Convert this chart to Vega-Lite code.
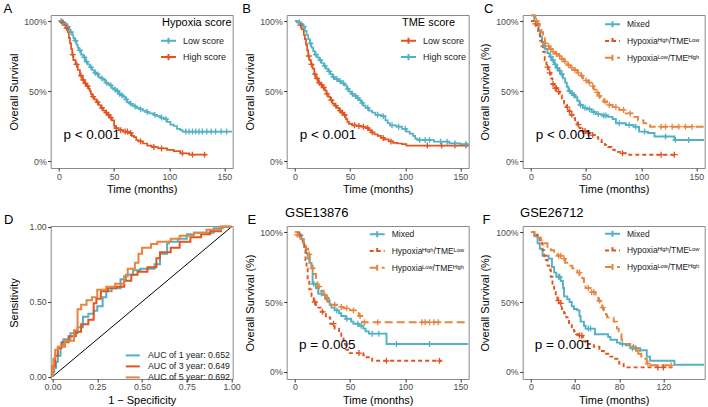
{
 "$schema": "https://vega.github.io/schema/vega-lite/v6.json",
 "padding": {"left": 2.7, "top": 2, "right": 0, "bottom": 0},
 "background": "white",
 "config": {
  "font": "Liberation Sans",
  "view": {"stroke": "#8a8a8a", "strokeWidth": 1},
  "axis": {"grid": false, "domain": false, "tickColor": "#333333", "tickSize": 3, "tickWidth": 1, "labelFontSize": 8.8, "labelColor": "#4d4d4d", "labelFont": "Liberation Sans", "titleFont": "Liberation Sans", "titleFontSize": 11, "titleFontWeight": "normal", "titleColor": "#000000", "labelPadding": 1.5, "labelFlush": false},
  "axisX": {"titlePadding": 2.5, "labelPadding": 1},
  "legend": {"titleFontSize": 11, "titleFontWeight": "normal", "titleColor": "#000000", "titleFont": "Liberation Sans", "labelFont": "Liberation Sans", "labelFontSize": 9, "labelColor": "#1a1a1a", "symbolStrokeWidth": 2, "padding": 0, "labelOffset": 8, "symbolType": "M-1.36,0H1.36M0,-0.55V0.55", "symbolSize": 121, "rowPadding": 1.3, "titlePadding": 6.5},
  "text": {"font": "Liberation Sans", "color": "#000000"}
 },
 "datasets": {
  "A": [
   {"g":"L","t":0,"s":1},{"g":"L","t":3,"s":0.99},{"g":"L","t":5,"s":0.98},{"g":"L","t":7,"s":0.96},{"g":"L","t":9,"s":0.94},{"g":"L","t":10,"s":0.92},{"g":"L","t":12,"s":0.9},{"g":"L","t":13,"s":0.88},{"g":"L","t":14,"s":0.86},{"g":"L","t":16,"s":0.83},{"g":"L","t":17,"s":0.81},{"g":"L","t":18,"s":0.79},{"g":"L","t":20,"s":0.76},{"g":"L","t":22,"s":0.74},{"g":"L","t":24,"s":0.71},{"g":"L","t":26,"s":0.69},{"g":"L","t":28,"s":0.67},{"g":"L","t":30,"s":0.65},{"g":"L","t":32,"s":0.63},{"g":"L","t":34,"s":0.62},{"g":"L","t":36,"s":0.6},{"g":"L","t":38,"s":0.59},{"g":"L","t":40,"s":0.58},{"g":"L","t":42,"s":0.56},{"g":"L","t":44,"s":0.55},{"g":"L","t":46,"s":0.54},{"g":"L","t":48,"s":0.52},{"g":"L","t":50,"s":0.51},{"g":"L","t":52,"s":0.5},{"g":"L","t":54,"s":0.48},{"g":"L","t":56,"s":0.47},{"g":"L","t":58,"s":0.46},{"g":"L","t":60,"s":0.44},{"g":"L","t":62,"s":0.42},{"g":"L","t":64,"s":0.41},{"g":"L","t":66,"s":0.4},{"g":"L","t":68,"s":0.39},{"g":"L","t":70,"s":0.38},{"g":"L","t":73,"s":0.37},{"g":"L","t":76,"s":0.36},{"g":"L","t":79,"s":0.35},{"g":"L","t":82,"s":0.34},{"g":"L","t":86,"s":0.33},{"g":"L","t":89,"s":0.32},{"g":"L","t":92,"s":0.31},{"g":"L","t":95,"s":0.3},{"g":"L","t":98,"s":0.28},{"g":"L","t":101,"s":0.26},{"g":"L","t":104,"s":0.25},{"g":"L","t":107,"s":0.23},{"g":"L","t":110,"s":0.22},{"g":"L","t":112,"s":0.21},{"g":"L","t":157,"s":0.21},
   {"g":"H","t":0,"s":1},{"g":"H","t":2,"s":0.99},{"g":"H","t":4,"s":0.97},{"g":"H","t":6,"s":0.95},{"g":"H","t":8,"s":0.92},{"g":"H","t":9,"s":0.88},{"g":"H","t":10,"s":0.84},{"g":"H","t":11,"s":0.8},{"g":"H","t":12,"s":0.76},{"g":"H","t":13,"s":0.72},{"g":"H","t":15,"s":0.69},{"g":"H","t":17,"s":0.65},{"g":"H","t":19,"s":0.61},{"g":"H","t":21,"s":0.58},{"g":"H","t":23,"s":0.555},{"g":"H","t":25,"s":0.535},{"g":"H","t":27,"s":0.515},{"g":"H","t":28,"s":0.5},{"g":"H","t":29,"s":0.48},{"g":"H","t":30,"s":0.46},{"g":"H","t":32,"s":0.44},{"g":"H","t":34,"s":0.42},{"g":"H","t":36,"s":0.4},{"g":"H","t":38,"s":0.38},{"g":"H","t":40,"s":0.36},{"g":"H","t":42,"s":0.345},{"g":"H","t":44,"s":0.33},{"g":"H","t":46,"s":0.31},{"g":"H","t":48,"s":0.29},{"g":"H","t":50,"s":0.25},{"g":"H","t":51,"s":0.235},{"g":"H","t":54,"s":0.22},{"g":"H","t":58,"s":0.21},{"g":"H","t":63,"s":0.2},{"g":"H","t":66,"s":0.18},{"g":"H","t":68,"s":0.17},{"g":"H","t":70,"s":0.15},{"g":"H","t":72,"s":0.14},{"g":"H","t":76,"s":0.125},{"g":"H","t":80,"s":0.11},{"g":"H","t":84,"s":0.1},{"g":"H","t":90,"s":0.09},{"g":"H","t":98,"s":0.08},{"g":"H","t":104,"s":0.07},{"g":"H","t":110,"s":0.055},{"g":"H","t":118,"s":0.045},{"g":"H","t":134,"s":0.045}
  ],
  "Ac": [
   {"g":"L","t":2,"s":1},{"g":"L","t":4,"s":0.99},{"g":"L","t":8,"s":0.96},{"g":"L","t":11,"s":0.92},{"g":"L","t":15,"s":0.86},{"g":"L","t":19,"s":0.79},{"g":"L","t":23,"s":0.74},{"g":"L","t":25,"s":0.71},{"g":"L","t":29,"s":0.67},{"g":"L","t":33,"s":0.63},{"g":"L","t":35,"s":0.62},{"g":"L","t":39,"s":0.59},{"g":"L","t":43,"s":0.56},{"g":"L","t":47,"s":0.54},{"g":"L","t":51,"s":0.51},{"g":"L","t":53,"s":0.5},{"g":"L","t":55,"s":0.48},{"g":"L","t":57,"s":0.47},{"g":"L","t":61,"s":0.44},{"g":"L","t":65,"s":0.41},{"g":"L","t":69,"s":0.39},{"g":"L","t":74,"s":0.37},{"g":"L","t":80,"s":0.35},{"g":"L","t":87,"s":0.33},{"g":"L","t":93,"s":0.31},{"g":"L","t":97,"s":0.3},{"g":"L","t":115,"s":0.21},{"g":"L","t":118,"s":0.21},{"g":"L","t":121,"s":0.21},{"g":"L","t":124,"s":0.21},{"g":"L","t":127,"s":0.21},{"g":"L","t":130,"s":0.21},{"g":"L","t":134,"s":0.21},{"g":"L","t":138,"s":0.21},{"g":"L","t":142,"s":0.21},{"g":"L","t":147,"s":0.21},{"g":"L","t":152,"s":0.21},
   {"g":"H","t":3,"s":0.99},{"g":"H","t":7,"s":0.95},{"g":"H","t":12.5,"s":0.76},{"g":"H","t":16,"s":0.69},{"g":"H","t":20,"s":0.61},{"g":"H","t":22,"s":0.58},{"g":"H","t":24,"s":0.555},{"g":"H","t":26,"s":0.535},{"g":"H","t":31,"s":0.46},{"g":"H","t":35,"s":0.42},{"g":"H","t":39,"s":0.38},{"g":"H","t":43,"s":0.345},{"g":"H","t":45,"s":0.33},{"g":"H","t":47,"s":0.31},{"g":"H","t":52,"s":0.235},{"g":"H","t":56,"s":0.22},{"g":"H","t":60,"s":0.21},{"g":"H","t":62,"s":0.21},{"g":"H","t":65,"s":0.2},{"g":"H","t":74,"s":0.14},{"g":"H","t":86,"s":0.1},{"g":"H","t":93,"s":0.09},{"g":"H","t":112,"s":0.055},{"g":"H","t":121,"s":0.045},{"g":"H","t":132,"s":0.045}
  ],
  "B": [
   {"g":"L","t":0,"s":1},{"g":"L","t":2,"s":0.99},{"g":"L","t":4,"s":0.97},{"g":"L","t":6,"s":0.94},{"g":"L","t":8,"s":0.9},{"g":"L","t":9,"s":0.87},{"g":"L","t":10,"s":0.83},{"g":"L","t":11,"s":0.79},{"g":"L","t":12,"s":0.75},{"g":"L","t":13,"s":0.72},{"g":"L","t":14.5,"s":0.69},{"g":"L","t":16,"s":0.66},{"g":"L","t":17.5,"s":0.62},{"g":"L","t":19,"s":0.59},{"g":"L","t":21,"s":0.56},{"g":"L","t":23,"s":0.545},{"g":"L","t":25,"s":0.525},{"g":"L","t":27,"s":0.505},{"g":"L","t":28.5,"s":0.48},{"g":"L","t":30,"s":0.46},{"g":"L","t":32,"s":0.435},{"g":"L","t":34,"s":0.41},{"g":"L","t":36,"s":0.395},{"g":"L","t":38,"s":0.38},{"g":"L","t":40,"s":0.36},{"g":"L","t":42,"s":0.345},{"g":"L","t":44,"s":0.33},{"g":"L","t":46,"s":0.3},{"g":"L","t":47.5,"s":0.28},{"g":"L","t":49,"s":0.265},{"g":"L","t":52,"s":0.255},{"g":"L","t":56,"s":0.25},{"g":"L","t":60,"s":0.245},{"g":"L","t":64,"s":0.235},{"g":"L","t":67,"s":0.22},{"g":"L","t":69,"s":0.205},{"g":"L","t":72,"s":0.19},{"g":"L","t":75,"s":0.18},{"g":"L","t":78,"s":0.165},{"g":"L","t":81,"s":0.155},{"g":"L","t":85,"s":0.14},{"g":"L","t":89,"s":0.13},{"g":"L","t":93,"s":0.125},{"g":"L","t":97,"s":0.12},{"g":"L","t":101,"s":0.11},{"g":"L","t":157,"s":0.11},
   {"g":"H","t":0,"s":1},{"g":"H","t":3,"s":0.99},{"g":"H","t":5,"s":0.98},{"g":"H","t":7,"s":0.96},{"g":"H","t":9,"s":0.93},{"g":"H","t":10.5,"s":0.9},{"g":"H","t":12,"s":0.87},{"g":"H","t":13.5,"s":0.84},{"g":"H","t":15,"s":0.81},{"g":"H","t":16.5,"s":0.785},{"g":"H","t":18,"s":0.76},{"g":"H","t":20,"s":0.74},{"g":"H","t":22,"s":0.72},{"g":"H","t":24,"s":0.7},{"g":"H","t":26,"s":0.68},{"g":"H","t":28,"s":0.66},{"g":"H","t":30,"s":0.64},{"g":"H","t":32,"s":0.62},{"g":"H","t":34,"s":0.6},{"g":"H","t":36,"s":0.585},{"g":"H","t":39,"s":0.57},{"g":"H","t":42,"s":0.555},{"g":"H","t":45,"s":0.54},{"g":"H","t":47,"s":0.515},{"g":"H","t":49,"s":0.495},{"g":"H","t":51,"s":0.48},{"g":"H","t":53,"s":0.465},{"g":"H","t":56,"s":0.45},{"g":"H","t":58,"s":0.435},{"g":"H","t":60,"s":0.415},{"g":"H","t":62,"s":0.395},{"g":"H","t":64,"s":0.38},{"g":"H","t":67,"s":0.36},{"g":"H","t":70,"s":0.345},{"g":"H","t":73,"s":0.33},{"g":"H","t":78,"s":0.32},{"g":"H","t":82,"s":0.29},{"g":"H","t":84,"s":0.27},{"g":"H","t":86,"s":0.255},{"g":"H","t":92,"s":0.245},{"g":"H","t":97,"s":0.23},{"g":"H","t":101,"s":0.21},{"g":"H","t":104,"s":0.195},{"g":"H","t":107,"s":0.18},{"g":"H","t":109,"s":0.16},{"g":"H","t":111,"s":0.15},{"g":"H","t":126,"s":0.138},{"g":"H","t":140,"s":0.126},{"g":"H","t":150,"s":0.12},{"g":"H","t":157,"s":0.12}
  ],
  "Bc": [
   {"g":"L","t":5,"s":0.97},{"g":"L","t":12.5,"s":0.75},{"g":"L","t":15,"s":0.69},{"g":"L","t":18,"s":0.62},{"g":"L","t":20,"s":0.59},{"g":"L","t":22,"s":0.56},{"g":"L","t":24,"s":0.545},{"g":"L","t":26,"s":0.525},{"g":"L","t":29,"s":0.48},{"g":"L","t":33,"s":0.435},{"g":"L","t":37,"s":0.395},{"g":"L","t":41,"s":0.36},{"g":"L","t":43,"s":0.345},{"g":"L","t":45,"s":0.33},{"g":"L","t":54,"s":0.255},{"g":"L","t":58,"s":0.25},{"g":"L","t":62,"s":0.245},{"g":"L","t":66,"s":0.235},{"g":"L","t":70,"s":0.205},{"g":"L","t":80,"s":0.165},{"g":"L","t":87,"s":0.14},{"g":"L","t":120,"s":0.11},{"g":"L","t":133,"s":0.11},{"g":"L","t":145,"s":0.11},{"g":"L","t":155,"s":0.11},
   {"g":"H","t":4,"s":0.99},{"g":"H","t":8,"s":0.96},{"g":"H","t":14,"s":0.84},{"g":"H","t":19,"s":0.76},{"g":"H","t":23,"s":0.72},{"g":"H","t":27,"s":0.68},{"g":"H","t":31,"s":0.64},{"g":"H","t":35,"s":0.6},{"g":"H","t":38,"s":0.585},{"g":"H","t":41,"s":0.57},{"g":"H","t":44,"s":0.555},{"g":"H","t":48,"s":0.515},{"g":"H","t":52,"s":0.48},{"g":"H","t":55,"s":0.465},{"g":"H","t":57,"s":0.45},{"g":"H","t":61,"s":0.415},{"g":"H","t":66,"s":0.38},{"g":"H","t":75,"s":0.33},{"g":"H","t":80,"s":0.32},{"g":"H","t":88,"s":0.255},{"g":"H","t":94,"s":0.245},{"g":"H","t":100,"s":0.23},{"g":"H","t":113,"s":0.15},{"g":"H","t":118,"s":0.15},{"g":"H","t":122,"s":0.15},{"g":"H","t":132,"s":0.138},{"g":"H","t":138,"s":0.138},{"g":"H","t":145,"s":0.126},{"g":"H","t":155,"s":0.12}
  ],
  "C": [
   {"g":"M","t":0,"s":1.04},{"g":"M","t":3,"s":1},{"g":"M","t":5,"s":0.97},{"g":"M","t":7,"s":0.93},{"g":"M","t":8.5,"s":0.89},{"g":"M","t":10,"s":0.85},{"g":"M","t":11,"s":0.82},{"g":"M","t":13,"s":0.8},{"g":"M","t":15,"s":0.77},{"g":"M","t":17,"s":0.745},{"g":"M","t":19,"s":0.72},{"g":"M","t":21,"s":0.69},{"g":"M","t":23,"s":0.665},{"g":"M","t":25,"s":0.645},{"g":"M","t":27,"s":0.62},{"g":"M","t":29,"s":0.59},{"g":"M","t":31,"s":0.56},{"g":"M","t":32.5,"s":0.53},{"g":"M","t":34,"s":0.5},{"g":"M","t":36,"s":0.485},{"g":"M","t":38,"s":0.47},{"g":"M","t":40,"s":0.455},{"g":"M","t":42,"s":0.43},{"g":"M","t":44,"s":0.4},{"g":"M","t":47,"s":0.38},{"g":"M","t":51,"s":0.37},{"g":"M","t":55,"s":0.35},{"g":"M","t":59,"s":0.335},{"g":"M","t":64,"s":0.325},{"g":"M","t":70,"s":0.315},{"g":"M","t":74,"s":0.3},{"g":"M","t":77,"s":0.27},{"g":"M","t":86,"s":0.257},{"g":"M","t":93,"s":0.245},{"g":"M","t":98,"s":0.21},{"g":"M","t":106,"s":0.2},{"g":"M","t":112,"s":0.175},{"g":"M","t":130,"s":0.15},{"g":"M","t":157,"s":0.15},
   {"g":"HL","t":0,"s":1},{"g":"HL","t":3,"s":0.98},{"g":"HL","t":5,"s":0.95},{"g":"HL","t":6.5,"s":0.91},{"g":"HL","t":8,"s":0.86},{"g":"HL","t":9.5,"s":0.82},{"g":"HL","t":11,"s":0.78},{"g":"HL","t":12.5,"s":0.72},{"g":"HL","t":14,"s":0.67},{"g":"HL","t":16,"s":0.63},{"g":"HL","t":18,"s":0.59},{"g":"HL","t":19.5,"s":0.55},{"g":"HL","t":21,"s":0.52},{"g":"HL","t":24,"s":0.495},{"g":"HL","t":26,"s":0.47},{"g":"HL","t":28,"s":0.44},{"g":"HL","t":30,"s":0.41},{"g":"HL","t":32,"s":0.385},{"g":"HL","t":34,"s":0.355},{"g":"HL","t":36,"s":0.33},{"g":"HL","t":38,"s":0.305},{"g":"HL","t":40,"s":0.285},{"g":"HL","t":42,"s":0.26},{"g":"HL","t":44,"s":0.235},{"g":"HL","t":46,"s":0.215},{"g":"HL","t":50,"s":0.2},{"g":"HL","t":54,"s":0.185},{"g":"HL","t":58,"s":0.17},{"g":"HL","t":61,"s":0.15},{"g":"HL","t":64,"s":0.135},{"g":"HL","t":67,"s":0.115},{"g":"HL","t":70,"s":0.1},{"g":"HL","t":73,"s":0.08},{"g":"HL","t":76,"s":0.065},{"g":"HL","t":82,"s":0.055},{"g":"HL","t":88,"s":0.045},{"g":"HL","t":133,"s":0.045},
   {"g":"LH","t":0,"s":1.04},{"g":"LH","t":4,"s":1},{"g":"LH","t":6,"s":0.98},{"g":"LH","t":8,"s":0.95},{"g":"LH","t":9.5,"s":0.92},{"g":"LH","t":11,"s":0.88},{"g":"LH","t":12.5,"s":0.84},{"g":"LH","t":15,"s":0.82},{"g":"LH","t":17,"s":0.8},{"g":"LH","t":19,"s":0.78},{"g":"LH","t":22,"s":0.765},{"g":"LH","t":25,"s":0.75},{"g":"LH","t":27,"s":0.73},{"g":"LH","t":30,"s":0.71},{"g":"LH","t":33,"s":0.685},{"g":"LH","t":36,"s":0.665},{"g":"LH","t":39,"s":0.65},{"g":"LH","t":42,"s":0.63},{"g":"LH","t":45,"s":0.61},{"g":"LH","t":47,"s":0.59},{"g":"LH","t":49,"s":0.575},{"g":"LH","t":52,"s":0.56},{"g":"LH","t":55,"s":0.535},{"g":"LH","t":57,"s":0.51},{"g":"LH","t":59,"s":0.49},{"g":"LH","t":61,"s":0.465},{"g":"LH","t":63,"s":0.445},{"g":"LH","t":66,"s":0.425},{"g":"LH","t":69,"s":0.4},{"g":"LH","t":74,"s":0.385},{"g":"LH","t":80,"s":0.365},{"g":"LH","t":86,"s":0.34},{"g":"LH","t":92,"s":0.315},{"g":"LH","t":97,"s":0.29},{"g":"LH","t":102,"s":0.27},{"g":"LH","t":108,"s":0.245},{"g":"LH","t":157,"s":0.245}
  ],
  "Cc": [
   {"g":"M","t":12,"s":0.82},{"g":"M","t":18,"s":0.745},{"g":"M","t":20,"s":0.72},{"g":"M","t":22,"s":0.69},{"g":"M","t":24,"s":0.665},{"g":"M","t":26,"s":0.645},{"g":"M","t":28,"s":0.62},{"g":"M","t":35,"s":0.5},{"g":"M","t":37,"s":0.485},{"g":"M","t":39,"s":0.47},{"g":"M","t":45,"s":0.4},{"g":"M","t":49,"s":0.38},{"g":"M","t":53,"s":0.37},{"g":"M","t":57,"s":0.35},{"g":"M","t":61,"s":0.335},{"g":"M","t":66,"s":0.325},{"g":"M","t":68,"s":0.325},{"g":"M","t":80,"s":0.27},{"g":"M","t":89,"s":0.257},{"g":"M","t":95,"s":0.245},{"g":"M","t":103,"s":0.21},{"g":"M","t":122,"s":0.175},{"g":"M","t":131,"s":0.15},{"g":"M","t":143,"s":0.15},
   {"g":"HL","t":4,"s":0.98},{"g":"HL","t":15,"s":0.67},{"g":"HL","t":17,"s":0.63},{"g":"HL","t":20,"s":0.55},{"g":"HL","t":22,"s":0.52},{"g":"HL","t":23,"s":0.52},{"g":"HL","t":25,"s":0.495},{"g":"HL","t":33,"s":0.385},{"g":"HL","t":35,"s":0.355},{"g":"HL","t":37,"s":0.33},{"g":"HL","t":43,"s":0.26},{"g":"HL","t":47,"s":0.215},{"g":"HL","t":49,"s":0.215},{"g":"HL","t":52,"s":0.2},{"g":"HL","t":56,"s":0.185},{"g":"HL","t":83,"s":0.055},{"g":"HL","t":118,"s":0.045},{"g":"HL","t":130,"s":0.045},
   {"g":"LH","t":5,"s":1},{"g":"LH","t":13,"s":0.84},{"g":"LH","t":16,"s":0.82},{"g":"LH","t":18,"s":0.8},{"g":"LH","t":20,"s":0.78},{"g":"LH","t":23,"s":0.765},{"g":"LH","t":26,"s":0.75},{"g":"LH","t":28,"s":0.73},{"g":"LH","t":31,"s":0.71},{"g":"LH","t":34,"s":0.685},{"g":"LH","t":37,"s":0.665},{"g":"LH","t":40,"s":0.65},{"g":"LH","t":43,"s":0.63},{"g":"LH","t":46,"s":0.61},{"g":"LH","t":50,"s":0.575},{"g":"LH","t":53,"s":0.56},{"g":"LH","t":56,"s":0.535},{"g":"LH","t":60,"s":0.49},{"g":"LH","t":62,"s":0.465},{"g":"LH","t":67,"s":0.425},{"g":"LH","t":71,"s":0.4},{"g":"LH","t":77,"s":0.385},{"g":"LH","t":84,"s":0.365},{"g":"LH","t":90,"s":0.34},{"g":"LH","t":118,"s":0.245},{"g":"LH","t":122,"s":0.245},{"g":"LH","t":128,"s":0.245},{"g":"LH","t":134,"s":0.245},{"g":"LH","t":140,"s":0.245},{"g":"LH","t":146,"s":0.245}
  ],
  "D": [
   {"g":"1","fp":0,"tp":0},{"g":"1","fp":0.01,"tp":0.03},{"g":"1","fp":0.02,"tp":0.06},{"g":"1","fp":0.03,"tp":0.1},{"g":"1","fp":0.045,"tp":0.14},{"g":"1","fp":0.06,"tp":0.2},{"g":"1","fp":0.1,"tp":0.25},{"g":"1","fp":0.14,"tp":0.29},{"g":"1","fp":0.17,"tp":0.33},{"g":"1","fp":0.2,"tp":0.4},{"g":"1","fp":0.23,"tp":0.42},{"g":"1","fp":0.25,"tp":0.44},{"g":"1","fp":0.28,"tp":0.47},{"g":"1","fp":0.3,"tp":0.53},{"g":"1","fp":0.33,"tp":0.57},{"g":"1","fp":0.38,"tp":0.59},{"g":"1","fp":0.41,"tp":0.65},{"g":"1","fp":0.45,"tp":0.68},{"g":"1","fp":0.49,"tp":0.71},{"g":"1","fp":0.57,"tp":0.72},{"g":"1","fp":0.6,"tp":0.75},{"g":"1","fp":0.64,"tp":0.82},{"g":"1","fp":0.65,"tp":0.89},{"g":"1","fp":0.7,"tp":0.9},{"g":"1","fp":0.75,"tp":0.92},{"g":"1","fp":0.79,"tp":0.95},{"g":"1","fp":0.9,"tp":0.96},{"g":"1","fp":0.95,"tp":0.99},{"g":"1","fp":1,"tp":1},
   {"g":"3","fp":0,"tp":0},{"g":"3","fp":0.015,"tp":0.07},{"g":"3","fp":0.03,"tp":0.14},{"g":"3","fp":0.05,"tp":0.19},{"g":"3","fp":0.09,"tp":0.23},{"g":"3","fp":0.13,"tp":0.27},{"g":"3","fp":0.16,"tp":0.3},{"g":"3","fp":0.2,"tp":0.35},{"g":"3","fp":0.23,"tp":0.38},{"g":"3","fp":0.245,"tp":0.49},{"g":"3","fp":0.27,"tp":0.52},{"g":"3","fp":0.31,"tp":0.57},{"g":"3","fp":0.355,"tp":0.59},{"g":"3","fp":0.4,"tp":0.6},{"g":"3","fp":0.44,"tp":0.64},{"g":"3","fp":0.475,"tp":0.68},{"g":"3","fp":0.53,"tp":0.7},{"g":"3","fp":0.58,"tp":0.73},{"g":"3","fp":0.6,"tp":0.79},{"g":"3","fp":0.66,"tp":0.83},{"g":"3","fp":0.71,"tp":0.86},{"g":"3","fp":0.77,"tp":0.9},{"g":"3","fp":0.83,"tp":0.93},{"g":"3","fp":0.88,"tp":0.95},{"g":"3","fp":0.94,"tp":0.97},{"g":"3","fp":1,"tp":1},
   {"g":"5","fp":0,"tp":0},{"g":"5","fp":0.005,"tp":0.05},{"g":"5","fp":0.015,"tp":0.12},{"g":"5","fp":0.03,"tp":0.18},{"g":"5","fp":0.07,"tp":0.2},{"g":"5","fp":0.12,"tp":0.24},{"g":"5","fp":0.14,"tp":0.31},{"g":"5","fp":0.16,"tp":0.45},{"g":"5","fp":0.19,"tp":0.48},{"g":"5","fp":0.22,"tp":0.51},{"g":"5","fp":0.25,"tp":0.53},{"g":"5","fp":0.3,"tp":0.58},{"g":"5","fp":0.35,"tp":0.6},{"g":"5","fp":0.4,"tp":0.62},{"g":"5","fp":0.42,"tp":0.67},{"g":"5","fp":0.46,"tp":0.72},{"g":"5","fp":0.48,"tp":0.76},{"g":"5","fp":0.5,"tp":0.82},{"g":"5","fp":0.55,"tp":0.86},{"g":"5","fp":0.585,"tp":0.885},{"g":"5","fp":0.66,"tp":0.9},{"g":"5","fp":0.71,"tp":0.92},{"g":"5","fp":0.79,"tp":0.94},{"g":"5","fp":0.86,"tp":0.96},{"g":"5","fp":0.94,"tp":0.98},{"g":"5","fp":1,"tp":1}
  ],
  "diag": [{"fp":0,"tp":0},{"fp":1,"tp":1}],
  "E": [
   {"g":"M","t":0,"s":1},{"g":"M","t":3,"s":0.976},{"g":"M","t":6,"s":0.95},{"g":"M","t":7.5,"s":0.92},{"g":"M","t":8.5,"s":0.89},{"g":"M","t":10,"s":0.85},{"g":"M","t":11.5,"s":0.81},{"g":"M","t":13,"s":0.78},{"g":"M","t":15,"s":0.76},{"g":"M","t":16,"s":0.63},{"g":"M","t":19,"s":0.6},{"g":"M","t":21,"s":0.56},{"g":"M","t":26,"s":0.55},{"g":"M","t":28,"s":0.53},{"g":"M","t":30,"s":0.51},{"g":"M","t":31.5,"s":0.48},{"g":"M","t":33,"s":0.46},{"g":"M","t":36,"s":0.44},{"g":"M","t":40,"s":0.42},{"g":"M","t":42,"s":0.4},{"g":"M","t":46,"s":0.38},{"g":"M","t":51,"s":0.36},{"g":"M","t":53,"s":0.345},{"g":"M","t":58,"s":0.33},{"g":"M","t":62,"s":0.31},{"g":"M","t":64,"s":0.29},{"g":"M","t":67,"s":0.274},{"g":"M","t":83,"s":0.2},{"g":"M","t":157,"s":0.2},
   {"g":"HL","t":0,"s":1},{"g":"HL","t":3,"s":0.98},{"g":"HL","t":5,"s":0.96},{"g":"HL","t":7,"s":0.92},{"g":"HL","t":8.5,"s":0.87},{"g":"HL","t":9.5,"s":0.8},{"g":"HL","t":10.5,"s":0.74},{"g":"HL","t":11.5,"s":0.66},{"g":"HL","t":13,"s":0.59},{"g":"HL","t":15,"s":0.54},{"g":"HL","t":17,"s":0.5},{"g":"HL","t":19,"s":0.46},{"g":"HL","t":24,"s":0.43},{"g":"HL","t":28,"s":0.39},{"g":"HL","t":32,"s":0.345},{"g":"HL","t":36,"s":0.31},{"g":"HL","t":40,"s":0.275},{"g":"HL","t":42,"s":0.24},{"g":"HL","t":44,"s":0.2},{"g":"HL","t":46,"s":0.16},{"g":"HL","t":48,"s":0.135},{"g":"HL","t":62,"s":0.12},{"g":"HL","t":65,"s":0.105},{"g":"HL","t":70,"s":0.08},{"g":"HL","t":133,"s":0.08},
   {"g":"LH","t":0,"s":1},{"g":"LH","t":3,"s":0.98},{"g":"LH","t":5,"s":0.95},{"g":"LH","t":8,"s":0.92},{"g":"LH","t":10,"s":0.88},{"g":"LH","t":12,"s":0.84},{"g":"LH","t":13.5,"s":0.79},{"g":"LH","t":15,"s":0.74},{"g":"LH","t":17,"s":0.7},{"g":"LH","t":19,"s":0.65},{"g":"LH","t":20.5,"s":0.61},{"g":"LH","t":23,"s":0.58},{"g":"LH","t":26,"s":0.55},{"g":"LH","t":28,"s":0.52},{"g":"LH","t":30,"s":0.5},{"g":"LH","t":33,"s":0.48},{"g":"LH","t":38,"s":0.465},{"g":"LH","t":44,"s":0.455},{"g":"LH","t":50,"s":0.44},{"g":"LH","t":55,"s":0.42},{"g":"LH","t":58,"s":0.4},{"g":"LH","t":61,"s":0.355},{"g":"LH","t":157,"s":0.355}
  ],
  "Ec": [
   {"g":"M","t":5,"s":0.976},{"g":"M","t":17,"s":0.63},{"g":"M","t":24,"s":0.56},{"g":"M","t":29,"s":0.53},{"g":"M","t":38,"s":0.44},{"g":"M","t":47,"s":0.38},{"g":"M","t":57,"s":0.345},{"g":"M","t":60,"s":0.33},{"g":"M","t":70,"s":0.274},{"g":"M","t":76,"s":0.274},{"g":"M","t":92,"s":0.2},{"g":"M","t":122,"s":0.2},
   {"g":"HL","t":4,"s":0.98},{"g":"HL","t":18,"s":0.5},{"g":"HL","t":25,"s":0.43},{"g":"HL","t":35,"s":0.345},{"g":"HL","t":58,"s":0.135},{"g":"HL","t":83,"s":0.08},{"g":"HL","t":131,"s":0.08},
   {"g":"LH","t":2,"s":0.98},{"g":"LH","t":13,"s":0.84},{"g":"LH","t":16,"s":0.74},{"g":"LH","t":22,"s":0.61},{"g":"LH","t":27,"s":0.55},{"g":"LH","t":29,"s":0.52},{"g":"LH","t":36,"s":0.48},{"g":"LH","t":42,"s":0.465},{"g":"LH","t":47,"s":0.455},{"g":"LH","t":53,"s":0.44},{"g":"LH","t":59,"s":0.4},{"g":"LH","t":63,"s":0.355},{"g":"LH","t":75,"s":0.355},{"g":"LH","t":115,"s":0.355},{"g":"LH","t":118,"s":0.355},{"g":"LH","t":122,"s":0.355},{"g":"LH","t":126,"s":0.355},{"g":"LH","t":130,"s":0.355}
  ],
  "F": [
   {"g":"M","t":0,"s":1},{"g":"M","t":3,"s":0.97},{"g":"M","t":6,"s":0.92},{"g":"M","t":8,"s":0.88},{"g":"M","t":10.5,"s":0.83},{"g":"M","t":16,"s":0.81},{"g":"M","t":19,"s":0.75},{"g":"M","t":21,"s":0.71},{"g":"M","t":23,"s":0.68},{"g":"M","t":27,"s":0.65},{"g":"M","t":29,"s":0.6},{"g":"M","t":30,"s":0.54},{"g":"M","t":33,"s":0.52},{"g":"M","t":35,"s":0.5},{"g":"M","t":37,"s":0.47},{"g":"M","t":39,"s":0.45},{"g":"M","t":42,"s":0.44},{"g":"M","t":44,"s":0.4},{"g":"M","t":45,"s":0.36},{"g":"M","t":48,"s":0.33},{"g":"M","t":49.5,"s":0.31},{"g":"M","t":58,"s":0.27},{"g":"M","t":70,"s":0.25},{"g":"M","t":72,"s":0.23},{"g":"M","t":78,"s":0.21},{"g":"M","t":81,"s":0.2},{"g":"M","t":86,"s":0.19},{"g":"M","t":90,"s":0.17},{"g":"M","t":99,"s":0.155},{"g":"M","t":105,"s":0.11},{"g":"M","t":108,"s":0.08},{"g":"M","t":130,"s":0.052},{"g":"M","t":157,"s":0.052},
   {"g":"HL","t":0,"s":1},{"g":"HL","t":3,"s":0.98},{"g":"HL","t":6,"s":0.96},{"g":"HL","t":8,"s":0.92},{"g":"HL","t":10.5,"s":0.87},{"g":"HL","t":12,"s":0.83},{"g":"HL","t":13.5,"s":0.8},{"g":"HL","t":15,"s":0.76},{"g":"HL","t":16.5,"s":0.73},{"g":"HL","t":18,"s":0.68},{"g":"HL","t":19.5,"s":0.63},{"g":"HL","t":21,"s":0.58},{"g":"HL","t":22.5,"s":0.54},{"g":"HL","t":24,"s":0.51},{"g":"HL","t":25.5,"s":0.49},{"g":"HL","t":28,"s":0.45},{"g":"HL","t":30,"s":0.42},{"g":"HL","t":32,"s":0.39},{"g":"HL","t":34.5,"s":0.35},{"g":"HL","t":37,"s":0.32},{"g":"HL","t":39,"s":0.29},{"g":"HL","t":41,"s":0.27},{"g":"HL","t":43.5,"s":0.26},{"g":"HL","t":47,"s":0.22},{"g":"HL","t":49.5,"s":0.2},{"g":"HL","t":57,"s":0.18},{"g":"HL","t":62,"s":0.15},{"g":"HL","t":66,"s":0.13},{"g":"HL","t":70,"s":0.11},{"g":"HL","t":75,"s":0.095},{"g":"HL","t":80,"s":0.06},{"g":"HL","t":84,"s":0.033},{"g":"HL","t":129,"s":0.033},
   {"g":"LH","t":0,"s":1},{"g":"LH","t":3,"s":0.98},{"g":"LH","t":6,"s":0.96},{"g":"LH","t":9,"s":0.94},{"g":"LH","t":12,"s":0.92},{"g":"LH","t":15,"s":0.89},{"g":"LH","t":18,"s":0.87},{"g":"LH","t":21,"s":0.85},{"g":"LH","t":24,"s":0.83},{"g":"LH","t":28.5,"s":0.81},{"g":"LH","t":31,"s":0.78},{"g":"LH","t":33,"s":0.76},{"g":"LH","t":37.5,"s":0.74},{"g":"LH","t":42,"s":0.71},{"g":"LH","t":44,"s":0.69},{"g":"LH","t":46.5,"s":0.67},{"g":"LH","t":48,"s":0.63},{"g":"LH","t":49.5,"s":0.6},{"g":"LH","t":54,"s":0.57},{"g":"LH","t":58.5,"s":0.54},{"g":"LH","t":61,"s":0.51},{"g":"LH","t":63,"s":0.49},{"g":"LH","t":64.5,"s":0.46},{"g":"LH","t":66,"s":0.44},{"g":"LH","t":68,"s":0.41},{"g":"LH","t":69,"s":0.39},{"g":"LH","t":75,"s":0.36},{"g":"LH","t":78,"s":0.31},{"g":"LH","t":79.5,"s":0.27},{"g":"LH","t":82,"s":0.23},{"g":"LH","t":84,"s":0.2},{"g":"LH","t":90,"s":0.18},{"g":"LH","t":93,"s":0.17},{"g":"LH","t":96,"s":0.15},{"g":"LH","t":97.5,"s":0.13},{"g":"LH","t":100,"s":0.11},{"g":"LH","t":102,"s":0.095},{"g":"LH","t":105,"s":0.06},{"g":"LH","t":108,"s":0.048},{"g":"LH","t":129,"s":0.048}
  ],
  "Fc": [
   {"g":"M","t":25,"s":0.68},{"g":"M","t":26,"s":0.68},{"g":"M","t":52,"s":0.31},{"g":"M","t":54,"s":0.31},{"g":"M","t":83,"s":0.2},{"g":"M","t":92,"s":0.17},{"g":"M","t":95,"s":0.17},
   {"g":"HL","t":25,"s":0.51},{"g":"HL","t":27,"s":0.49},{"g":"HL","t":44,"s":0.26},{"g":"HL","t":46,"s":0.26},{"g":"HL","t":115,"s":0.033},{"g":"HL","t":120,"s":0.033},
   {"g":"LH","t":25,"s":0.83},{"g":"LH","t":27,"s":0.83},{"g":"LH","t":30,"s":0.81},{"g":"LH","t":44,"s":0.71},{"g":"LH","t":52,"s":0.6},{"g":"LH","t":55,"s":0.57},{"g":"LH","t":57,"s":0.57},{"g":"LH","t":62,"s":0.51},{"g":"LH","t":65,"s":0.46},{"g":"LH","t":93,"s":0.18},{"g":"LH","t":97,"s":0.15},{"g":"LH","t":106,"s":0.06},{"g":"LH","t":127,"s":0.048}
  ]
 },
 "columns": 3,
 "spacing": {"row": 58, "column": 54},
 "bounds": "flush",
 "resolve": {"scale": {"x": "independent", "y": "independent", "color": "independent", "strokeDash": "independent"}, "legend": {"color": "independent", "strokeDash": "independent"}},
 "concat": [
  {
   "width": 182, "height": 153,
   "layer": [
    {"data": {"name": "A"}, "mark": {"type": "line", "interpolate": "step-after", "strokeWidth": 1.7},
     "encoding": {
      "x": {"field": "t", "type": "quantitative", "scale": {"domain": [-7.5, 157.5], "nice": false, "zero": false}, "axis": {"title": "Time (months)", "values": [0, 50, 100, 150]}},
      "y": {"field": "s", "type": "quantitative", "scale": {"domain": [-0.05, 1.043], "nice": false, "zero": false}, "axis": {"title": "Overall Survival", "values": [0, 0.25, 0.5, 0.75, 1], "format": ".0%", "titlePadding": 4.5}},
      "color": {"field": "g", "type": "nominal", "scale": {"domain": ["L", "H"], "range": ["#52b1c5", "#e1541f"]}, "legend": {"title": "Hypoxia score", "orient": "none", "legendX": 111.3, "legendY": 1.8, "labelExpr": "datum.label == 'L' ? 'Low score' : 'High score'"}}
     }},
    {"data": {"name": "Ac"}, "mark": {"type": "point", "shape": "M-1,0H1M0,-1V1", "filled": false, "size": 36, "strokeWidth": 1.3, "opacity": 1},
     "encoding": {"x": {"field": "t", "type": "quantitative"}, "y": {"field": "s", "type": "quantitative"}, "color": {"field": "g", "type": "nominal", "legend": null}}},
    {"data": {"values": [{}]}, "mark": {"type": "text", "text": "p < 0.001", "align": "left", "baseline": "alphabetic", "fontSize": 13.5}, "encoding": {"x": {"datum": 4}, "y": {"datum": 0.155}}},
    {"data": {"values": [{}]}, "mark": {"type": "text", "text": "A", "align": "left", "baseline": "alphabetic", "fontSize": 13}, "encoding": {"x": {"datum": -50.4}, "y": {"datum": 1.059}}}
   ]
  },
  {
   "width": 182, "height": 153,
   "layer": [
    {"data": {"name": "B"}, "mark": {"type": "line", "interpolate": "step-after", "strokeWidth": 1.7},
     "encoding": {
      "x": {"field": "t", "type": "quantitative", "scale": {"domain": [-7.5, 157.5], "nice": false, "zero": false}, "axis": {"title": "Time (months)", "values": [0, 50, 100, 150]}},
      "y": {"field": "s", "type": "quantitative", "scale": {"domain": [-0.05, 1.043], "nice": false, "zero": false}, "axis": {"title": "Overall Survival", "values": [0, 0.25, 0.5, 0.75, 1], "format": ".0%", "titlePadding": 4.5}},
      "color": {"field": "g", "type": "nominal", "scale": {"domain": ["L", "H"], "range": ["#e1541f", "#52b1c5"]}, "legend": {"title": "TME score", "orient": "none", "legendX": 115.3, "legendY": 1.8, "labelExpr": "datum.label == 'L' ? 'Low score' : 'High score'"}}
     }},
    {"data": {"name": "Bc"}, "mark": {"type": "point", "shape": "M-1,0H1M0,-1V1", "filled": false, "size": 36, "strokeWidth": 1.3, "opacity": 1},
     "encoding": {"x": {"field": "t", "type": "quantitative"}, "y": {"field": "s", "type": "quantitative"}, "color": {"field": "g", "type": "nominal", "legend": null}}},
    {"data": {"values": [{}]}, "mark": {"type": "text", "text": "p < 0.001", "align": "left", "baseline": "alphabetic", "fontSize": 13.5}, "encoding": {"x": {"datum": 4.3}, "y": {"datum": 0.155}}},
    {"data": {"values": [{}]}, "mark": {"type": "text", "text": "B", "align": "left", "baseline": "alphabetic", "fontSize": 13}, "encoding": {"x": {"datum": -47.7}, "y": {"datum": 1.059}}}
   ]
  },
  {
   "width": 182, "height": 153,
   "layer": [
    {"data": {"name": "C"}, "mark": {"type": "line", "interpolate": "step-after", "strokeWidth": 1.9},
     "encoding": {
      "x": {"field": "t", "type": "quantitative", "scale": {"domain": [-7.5, 157.5], "nice": false, "zero": false}, "axis": {"title": "Time (months)", "values": [0, 50, 100, 150]}},
      "y": {"field": "s", "type": "quantitative", "scale": {"domain": [-0.05, 1.043], "nice": false, "zero": false}, "axis": {"title": "Overall Survival (%)", "values": [0, 0.25, 0.5, 0.75, 1], "format": ".0%", "titlePadding": 5}},
      "color": {"field": "g", "type": "nominal", "scale": {"domain": ["M", "HL", "LH"], "range": ["#52b1c5", "#e1541f", "#e8843e"]}, "legend": {"title": null, "orient": "none", "legendX": 83.3, "legendY": 2.8, "labelFontSize": 8.5, "rowPadding": 1.7, "labelExpr": "datum.label == 'M' ? 'Mixed' : datum.label == 'HL' ? 'Hypoxiaᴴⁱᵍʰ/TMEᴸᵒʷ' : 'Hypoxiaᴸᵒʷ/TMEᴴⁱᵍʰ'"}},
      "strokeDash": {"field": "g", "type": "nominal", "scale": {"domain": ["M", "HL", "LH"], "range": [[1, 0], [4, 3], [8, 4]]}, "legend": {"title": null, "orient": "none", "legendX": 83.3, "legendY": 2.8, "labelFontSize": 8.5, "rowPadding": 1.7, "labelExpr": "datum.label == 'M' ? 'Mixed' : datum.label == 'HL' ? 'Hypoxiaᴴⁱᵍʰ/TMEᴸᵒʷ' : 'Hypoxiaᴸᵒʷ/TMEᴴⁱᵍʰ'"}}
     }},
    {"data": {"name": "Cc"}, "mark": {"type": "point", "shape": "M-1,0H1M0,-1V1", "filled": false, "size": 36, "strokeWidth": 1.3, "opacity": 1},
     "encoding": {"x": {"field": "t", "type": "quantitative"}, "y": {"field": "s", "type": "quantitative"}, "color": {"field": "g", "type": "nominal", "legend": null}}},
    {"data": {"values": [{}]}, "mark": {"type": "text", "text": "p < 0.001", "align": "left", "baseline": "alphabetic", "fontSize": 13.5}, "encoding": {"x": {"datum": 4.3}, "y": {"datum": 0.155}}},
    {"data": {"values": [{}]}, "mark": {"type": "text", "text": "C", "align": "left", "baseline": "alphabetic", "fontSize": 13}, "encoding": {"x": {"datum": -42.6}, "y": {"datum": 1.059}}}
   ]
  },
  {
   "width": 182, "height": 153,
   "layer": [
    {"data": {"name": "diag"}, "mark": {"type": "line", "color": "#000000", "strokeWidth": 1},
     "encoding": {
      "x": {"field": "fp", "type": "quantitative", "scale": {"domain": [-0.01, 1.006], "nice": false, "zero": false}, "axis": {"title": "1 − Specificity", "values": [0, 0.25, 0.5, 0.75, 1], "format": ".2f"}},
      "y": {"field": "tp", "type": "quantitative", "scale": {"domain": [-0.015, 1.005], "nice": false, "zero": false}, "axis": {"title": "Sensitivity", "values": [0, 0.25, 0.5, 0.75, 1], "format": ".2f", "titlePadding": 10}}
     }},
    {"data": {"name": "D"}, "mark": {"type": "line", "interpolate": "step-before", "strokeWidth": 2},
     "encoding": {
      "x": {"field": "fp", "type": "quantitative"},
      "y": {"field": "tp", "type": "quantitative"},
      "color": {"field": "g", "type": "nominal", "scale": {"domain": ["1", "3", "5"], "range": ["#52b1c5", "#e1541f", "#e8843e"]}, "legend": {"title": null, "orient": "none", "legendX": 76.6, "legendY": 123.9, "symbolType": "M-1.6,0H1.6", "symbolSize": 76, "labelOffset": 9.7, "rowPadding": 0, "labelFontSize": 8.8, "labelExpr": "'AUC of ' + datum.label + ' year: ' + (datum.label == '1' ? '0.652' : datum.label == '3' ? '0.649' : '0.692')"}}
     }},
    {"data": {"values": [{}]}, "mark": {"type": "text", "text": "D", "align": "left", "baseline": "alphabetic", "fontSize": 13}, "encoding": {"x": {"datum": -0.271}, "y": {"datum": 1.018}}}
   ]
  },
  {
   "width": 182, "height": 153,
   "layer": [
    {"data": {"name": "E"}, "mark": {"type": "line", "interpolate": "step-after", "strokeWidth": 1.9},
     "encoding": {
      "x": {"field": "t", "type": "quantitative", "scale": {"domain": [-7.5, 157.5], "nice": false, "zero": false}, "axis": {"title": "Time (months)", "values": [0, 50, 100, 150]}},
      "y": {"field": "s", "type": "quantitative", "scale": {"domain": [-0.05, 1.043], "nice": false, "zero": false}, "axis": {"title": "Overall Survival (%)", "values": [0, 0.25, 0.5, 0.75, 1], "format": ".0%", "titlePadding": 4}},
      "color": {"field": "g", "type": "nominal", "scale": {"domain": ["M", "HL", "LH"], "range": ["#52b1c5", "#e1541f", "#e8843e"]}, "legend": {"title": null, "orient": "none", "legendX": 84, "legendY": 1.8, "labelFontSize": 8.5, "rowPadding": 1.7, "labelExpr": "datum.label == 'M' ? 'Mixed' : datum.label == 'HL' ? 'Hypoxiaᴴⁱᵍʰ/TMEᴸᵒʷ' : 'Hypoxiaᴸᵒʷ/TMEᴴⁱᵍʰ'"}},
      "strokeDash": {"field": "g", "type": "nominal", "scale": {"domain": ["M", "HL", "LH"], "range": [[1, 0], [4, 3], [8, 4]]}, "legend": {"title": null, "orient": "none", "legendX": 84, "legendY": 1.8, "labelFontSize": 8.5, "rowPadding": 1.7, "labelExpr": "datum.label == 'M' ? 'Mixed' : datum.label == 'HL' ? 'Hypoxiaᴴⁱᵍʰ/TMEᴸᵒʷ' : 'Hypoxiaᴸᵒʷ/TMEᴴⁱᵍʰ'"}}
     }},
    {"data": {"name": "Ec"}, "mark": {"type": "point", "shape": "M-1,0H1M0,-1V1", "filled": false, "size": 36, "strokeWidth": 1.3, "opacity": 1},
     "encoding": {"x": {"field": "t", "type": "quantitative"}, "y": {"field": "s", "type": "quantitative"}, "color": {"field": "g", "type": "nominal", "legend": null}}},
    {"data": {"values": [{}]}, "mark": {"type": "text", "text": "p = 0.005", "align": "left", "baseline": "alphabetic", "fontSize": 13.5}, "encoding": {"x": {"datum": 3.65}, "y": {"datum": 0.164}}},
    {"data": {"values": [{}]}, "mark": {"type": "text", "text": "E", "align": "left", "baseline": "alphabetic", "fontSize": 13}, "encoding": {"x": {"datum": -43.1}, "y": {"datum": 1.057}}},
    {"data": {"values": [{}]}, "mark": {"type": "text", "text": "GSE13876", "align": "left", "baseline": "alphabetic", "fontSize": 13}, "encoding": {"x": {"datum": -9.0}, "y": {"datum": 1.109}}}
   ]
  },
  {
   "width": 182, "height": 153,
   "layer": [
    {"data": {"name": "F"}, "mark": {"type": "line", "interpolate": "step-after", "strokeWidth": 1.9},
     "encoding": {
      "x": {"field": "t", "type": "quantitative", "scale": {"domain": [-7.5, 157.5], "nice": false, "zero": false}, "axis": {"title": "Time (months)", "values": [0, 40, 80, 120]}},
      "y": {"field": "s", "type": "quantitative", "scale": {"domain": [-0.05, 1.043], "nice": false, "zero": false}, "axis": {"title": "Overall Survival (%)", "values": [0, 0.25, 0.5, 0.75, 1], "format": ".0%", "titlePadding": 5}},
      "color": {"field": "g", "type": "nominal", "scale": {"domain": ["M", "HL", "LH"], "range": ["#52b1c5", "#e1541f", "#e8843e"]}, "legend": {"title": null, "orient": "none", "legendX": 83.3, "legendY": 1.2, "labelFontSize": 8.5, "rowPadding": 1.7, "labelExpr": "datum.label == 'M' ? 'Mixed' : datum.label == 'HL' ? 'Hypoxiaᴴⁱᵍʰ/TMEᴸᵒʷ' : 'Hypoxiaᴸᵒʷ/TMEᴴⁱᵍʰ'"}},
      "strokeDash": {"field": "g", "type": "nominal", "scale": {"domain": ["M", "HL", "LH"], "range": [[1, 0], [4, 3], [8, 4]]}, "legend": {"title": null, "orient": "none", "legendX": 83.3, "legendY": 1.2, "labelFontSize": 8.5, "rowPadding": 1.7, "labelExpr": "datum.label == 'M' ? 'Mixed' : datum.label == 'HL' ? 'Hypoxiaᴴⁱᵍʰ/TMEᴸᵒʷ' : 'Hypoxiaᴸᵒʷ/TMEᴴⁱᵍʰ'"}}
     }},
    {"data": {"name": "Fc"}, "mark": {"type": "point", "shape": "M-1,0H1M0,-1V1", "filled": false, "size": 36, "strokeWidth": 1.3, "opacity": 1},
     "encoding": {"x": {"field": "t", "type": "quantitative"}, "y": {"field": "s", "type": "quantitative"}, "color": {"field": "g", "type": "nominal", "legend": null}}},
    {"data": {"values": [{}]}, "mark": {"type": "text", "text": "p = 0.001", "align": "left", "baseline": "alphabetic", "fontSize": 13.5}, "encoding": {"x": {"datum": 3.4}, "y": {"datum": 0.162}}},
    {"data": {"values": [{}]}, "mark": {"type": "text", "text": "F", "align": "left", "baseline": "alphabetic", "fontSize": 13}, "encoding": {"x": {"datum": -44.0}, "y": {"datum": 1.057}}},
    {"data": {"values": [{}]}, "mark": {"type": "text", "text": "GSE26712", "align": "left", "baseline": "alphabetic", "fontSize": 13}, "encoding": {"x": {"datum": -9.9}, "y": {"datum": 1.109}}}
   ]
  }
 ]
}
